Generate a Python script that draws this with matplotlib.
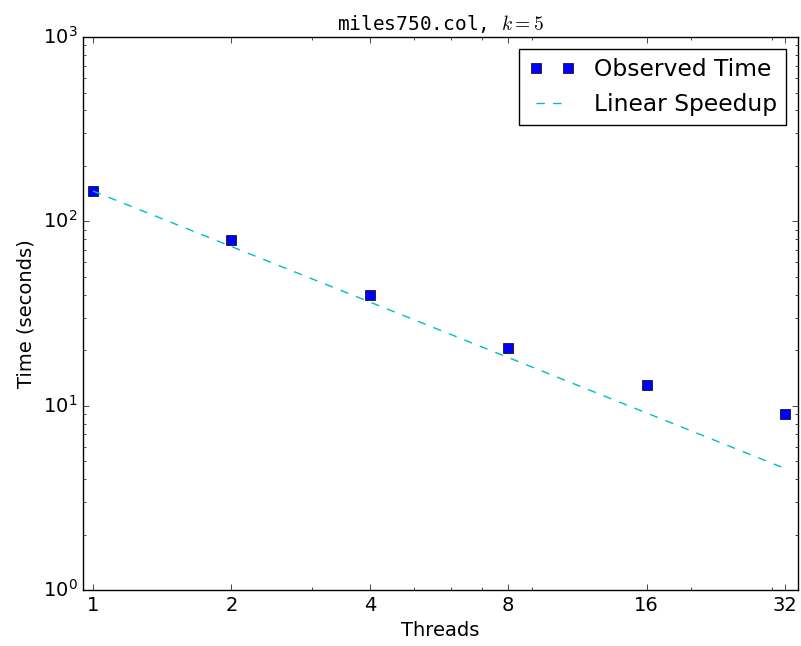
import matplotlib
matplotlib.use("Agg")
import matplotlib.pyplot as plt
from matplotlib.ticker import NullFormatter, ScalarFormatter

plt.style.use("classic")
plt.rcParams["font.size"] = 14

threads = [1, 2, 4, 8, 16, 32]
observed = [146, 79.3, 39.9, 20.6, 12.9, 9.0]
base_time = 146
linear = [base_time / t for t in threads]

fig = plt.figure(figsize=(8.01, 6.46), dpi=100)
ax = fig.add_axes([0.1036, 0.0867, 0.8927, 0.856])

ax.plot(threads, observed, "bs", markersize=7, label="Observed Time")
ax.plot(threads, linear, "c--", label="Linear Speedup")

ax.set_xscale("log")
ax.set_yscale("log")
ax.set_xlim(0.951, 34.15)
ax.set_ylim(1, 1000)
ax.set_xticks(threads)
ax.xaxis.set_major_formatter(ScalarFormatter())
ax.xaxis.set_minor_formatter(NullFormatter())

ax.set_xlabel("Threads")
ax.set_ylabel("Time (seconds)")
ax.set_title(r"miles750.col, $k=5$", family="monospace", fontsize=14)
ax.legend(loc="upper right")

fig.savefig("out.png", dpi=100)
